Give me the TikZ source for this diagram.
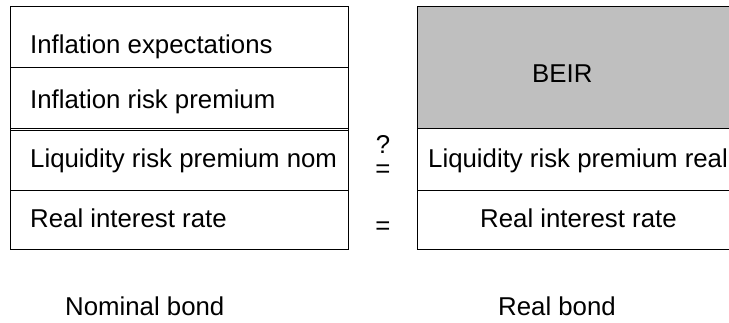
\documentclass[tikz,border=0pt]{standalone}
\usepackage{fontspec}
\setmainfont{Liberation Sans}
\begin{document}
\begin{tikzpicture}[x=1pt,y=-1pt,
  boxline/.style={draw=black,line width=1pt},
  lbl/.style={anchor=base west,inner sep=0pt,font=\fontsize{25.8}{30}\selectfont},
  sym/.style={anchor=center,inner sep=0pt,font=\fontsize{25.8}{30}\selectfont}]
\clip (0,0) rectangle (729,322);
% left stack
\coordinate (ltl) at (10,6);
\coordinate (lbr) at (348,249);
\draw[boxline] (ltl) rectangle (lbr);
\draw[boxline] (10,67) -- (348,67);
\draw[boxline] (10,128) -- (348,128);
\draw[boxline] (10,130.5) -- (348,130.5);
\draw[boxline] (10,190) -- (348,190);
% right stack
\coordinate (rtl) at (417,6);
\coordinate (rm) at (740,128);
\fill[gray!50] (rtl) rectangle (rm);
\draw[boxline] (740,6) -- (417,6) -- (417,249) -- (740,249);
\draw[boxline] (417,128) -- (740,128);
\draw[boxline] (417,190) -- (740,190);
% texts
\node[lbl] (ie) at (30,53) {Inflation expectations};
\node[lbl] (irp) at (30,108) {Inflation risk premium};
\node[lbl] (lrn) at (30,167) {Liquidity risk premium nom};
\node[lbl] (rir) at (30,227) {Real interest rate};
\node[lbl] (beir) at (532,82) {BEIR};
\node[lbl] (lrr) at (428,167) {Liquidity risk premium real};
\node[lbl] (rir2) at (480,227) {Real interest rate};
\node[sym,align=center,font=\fontsize{25.8}{24}\selectfont] (qeq) at (383,156) {?\\=};
\node[sym] (eq2) at (383,228) {=};
\node[lbl] (nb) at (65,315) {Nominal bond};
\node[lbl] (rb) at (498,315) {Real bond};
\end{tikzpicture}
\end{document}
